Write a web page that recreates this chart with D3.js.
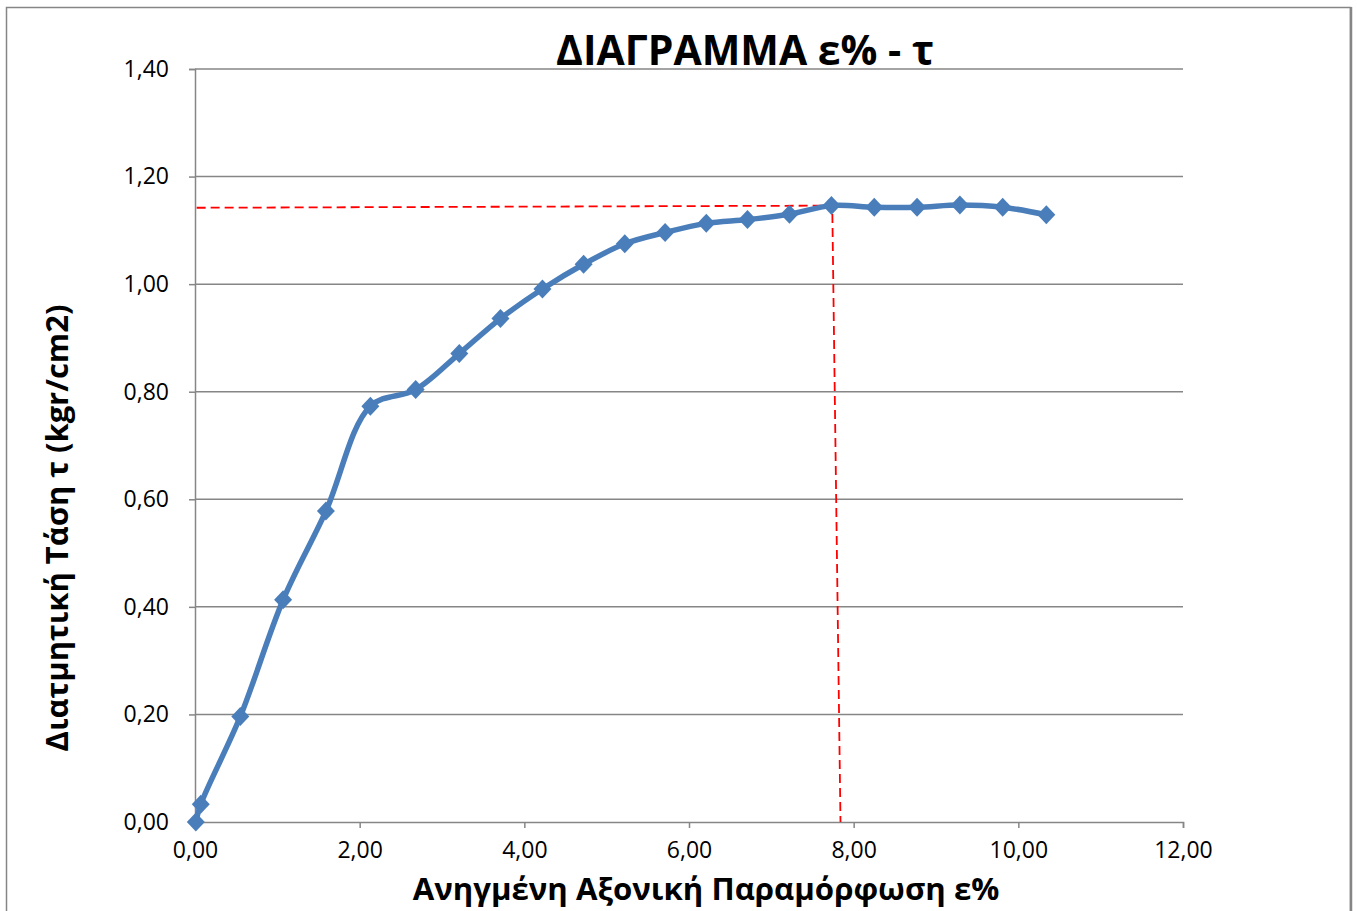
<!DOCTYPE html>
<html>
<head>
<meta charset="utf-8">
<script src="https://cdn.jsdelivr.net/npm/d3@7"></script>
<style>
html,body{margin:0;padding:0;background:#fff;}
svg{display:block;}
text{font-family:"Open Sans","Noto Sans","DejaVu Sans",sans-serif;fill:#000;}
</style>
</head>
<body>
<svg id="chart" width="1357" height="911"></svg>
<script>
// ---- data ----
const strainPct = [0.01, 0.07, 0.55, 1.07, 1.59, 2.13, 2.68, 3.21, 3.71, 4.22, 4.72, 5.22, 5.71, 6.21, 6.71, 7.22, 7.73, 8.25, 8.77, 9.29, 9.81, 10.34];
const shearStress = [0.000, 0.033, 0.196, 0.413, 0.578, 0.773, 0.804, 0.871, 0.936, 0.991, 1.037, 1.075, 1.096, 1.113, 1.120, 1.130, 1.146, 1.143, 1.143, 1.147, 1.143, 1.129];
const guideX = [0.02, 7.74, 7.84];
const guideY = [1.142, 1.146, 0.000];
const xTicks = [0, 2, 4, 6, 8, 10, 12];
const yTicks = [0, 0.2, 0.4, 0.6, 0.8, 1.0, 1.2, 1.4];
const titleText = "ΔΙΑΓΡΑΜΜΑ ε% - τ";
const xTitle = "Ανηγμένη Αξονική Παραμόρφωση ε%";
const yTitle = "Διατμητική Τάση τ (kgr/cm2)";

const svg = d3.select("#chart");
const L = 195, R = 1183, T = 69, B = 822;
const x = d3.scaleLinear().domain([0, 12]).range([L, R]);
const y = d3.scaleLinear().domain([0, 1.4]).range([B, T]);
const gray = "#868686";
const fmt = v => d3.format(".2f")(v).replace(".", ",");

// outer frame
svg.append("rect").attr("x", 6.5).attr("y", 7.5).attr("width", 1344).attr("height", 920)
  .attr("fill", "#fff").attr("stroke", gray).attr("stroke-width", 1.5);
svg.append("line").attr("x1", 1351).attr("x2", 1351).attr("y1", 7).attr("y2", 911)
  .attr("stroke", gray).attr("stroke-width", 2.5);

// gridlines
svg.append("g").selectAll("line").data(yTicks.filter(d => d > 0)).join("line")
  .attr("x1", L).attr("x2", R).attr("y1", d => y(d)).attr("y2", d => y(d))
  .attr("stroke", gray).attr("stroke-width", 1.5);

// axes
const tickFont = '"Open Sans","Noto Sans",sans-serif';
const xAxis = d3.axisBottom(x).tickValues(xTicks).tickFormat(fmt).tickSize(6).tickPadding(14);
const gx = svg.append("g").attr("transform", `translate(0,${B})`).call(xAxis);
gx.select(".domain").attr("stroke", gray).attr("stroke-width", 1.5);
gx.selectAll(".tick line").attr("stroke", gray).attr("stroke-width", 1.5);
gx.selectAll(".tick text").attr("font-size", 23).attr("font-family", tickFont).attr("fill", "#000");

const yAxis = d3.axisLeft(y).tickValues(yTicks).tickFormat(fmt).tickSize(6).tickPadding(20);
const gy = svg.append("g").attr("transform", `translate(${L},0)`).call(yAxis);
gy.select(".domain").attr("stroke", gray).attr("stroke-width", 1.5);
gy.selectAll(".tick line").attr("stroke", gray).attr("stroke-width", 1.5);
gy.selectAll(".tick text").attr("font-size", 23).attr("font-family", tickFont).attr("fill", "#000");

// fit text to a target width
function fit(sel, target, size) {
  sel.attr("font-size", size);
  const w = sel.node().getComputedTextLength();
  sel.attr("font-size", size * target / w);
}

// titles
const t = svg.append("text").attr("x", 745).attr("y", 65).attr("text-anchor", "middle")
  .attr("font-weight", "bold").text(titleText);
fit(t, 378, 34);
const xt = svg.append("text").attr("x", 706).attr("y", 900).attr("text-anchor", "middle")
  .attr("font-weight", "bold").text(xTitle);
fit(xt, 587, 26);
const yt = svg.append("text").attr("transform", "translate(68,528) rotate(-90)").attr("text-anchor", "middle")
  .attr("font-weight", "bold").text(yTitle);
fit(yt, 447, 26);

// guide lines
const guide = guideX.map((d, i) => [d, guideY[i]]);
svg.append("path").datum(guide)
  .attr("d", d3.line().x(d => x(d[0])).y(d => y(d[1])))
  .attr("fill", "none").attr("stroke", "#FF0000").attr("stroke-width", 1.8).attr("stroke-dasharray", "9,5");

// series
const pts = strainPct.map((d, i) => [d, shearStress[i]]);
const color = "#4A7EBB";
svg.append("path").datum(pts)
  .attr("d", d3.line().x(d => x(d[0])).y(d => y(d[1])).curve(d3.curveCatmullRom.alpha(0.5)))
  .attr("fill", "none").attr("stroke", color).attr("stroke-width", 5.5).attr("stroke-linejoin", "round");
svg.append("g").selectAll("path").data(pts).join("path")
  .attr("transform", d => `translate(${x(d[0])},${y(d[1])})`)
  .attr("d", "M0,-9.5L9,0L0,9.5L-9,0Z")
  .attr("fill", color);
</script>
</body>
</html>
